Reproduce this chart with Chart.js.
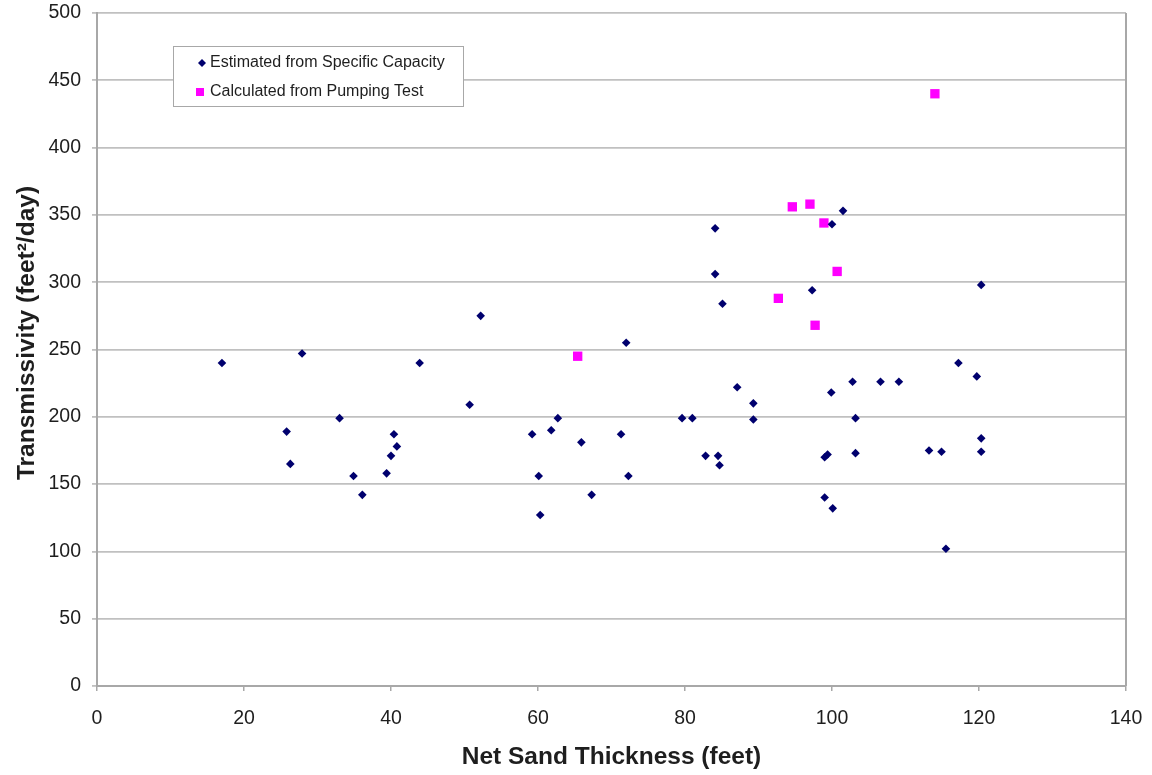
<!DOCTYPE html>
<html>
<head>
<meta charset="utf-8">
<script src="https://cdn.jsdelivr.net/npm/chart.js@4/dist/chart.umd.min.js"></script>
<style>
  html, body { margin: 0; padding: 0; background: #ffffff; }
  #wrap { width: 1152px; height: 775px; position: relative; }
</style>
</head>
<body>
<div id="wrap"><canvas id="c" width="1152" height="775"></canvas></div>
<script>
// Estimated from Specific Capacity
const specCapThickness = [17.0, 25.8, 26.3, 27.9, 33.0, 34.9, 36.1, 39.4, 40.0, 40.4, 40.8, 43.9, 50.7, 52.2,
  59.2, 60.1, 60.3, 61.8, 62.7, 65.9, 67.3, 71.3, 72.0, 72.3,
  79.6, 81.0, 82.8, 84.1, 84.1, 84.5, 84.7, 85.1, 87.1, 89.3, 89.3, 97.3,
  99.0, 99.4, 99.0, 100.1, 99.9, 100.0, 101.5, 102.8, 103.2, 103.2, 106.6, 109.1,
  113.2, 114.9, 115.5, 117.2, 119.7, 120.3, 120.3, 120.3];
const specCapTrans = [240, 189, 165, 247, 199, 156, 142, 158, 171, 187, 178, 240, 209, 275,
  187, 156, 127, 190, 199, 181, 142, 187, 255, 156,
  199, 199, 171, 340, 306, 171, 164, 284, 222, 210, 198, 294,
  170, 172, 140, 132, 218, 343, 353, 226, 199, 173, 226, 226,
  175, 174, 102, 240, 230, 298, 184, 174];

// Calculated from Pumping Test
const pumpThickness = [65.4, 92.7, 94.6, 97.0, 97.7, 98.9, 100.7, 114.0];
const pumpTrans = [245, 288, 356, 358, 268, 344, 308, 440];

// Axis ticks
const xTicks = [0, 20, 40, 60, 80, 100, 120, 140];
const yTicks = [0, 50, 100, 150, 200, 250, 300, 350, 400, 450, 500];

const seriesNames = ['Estimated from Specific Capacity', 'Calculated from Pumping Test'];
const xTitle = 'Net Sand Thickness (feet)';
const yTitle = 'Transmissivity (feet\u00B2/day)';

const FONT = '"Liberation Sans", Arial, Helvetica, sans-serif';
const NAVY = '#00006e';
const MAGENTA = '#ff00ff';
const GRID = '#c0c0c0';
const AXIS = '#a8a8a8';
const TEXT = '#1e1e1e';

const toPts = (xs, ys) => xs.map((x, i) => ({ x: x, y: ys[i] }));

const overlay = {
  id: 'overlay',
  afterDraw(chart) {
    const ctx = chart.ctx;
    const a = chart.chartArea;
    ctx.save();
    // right border
    ctx.strokeStyle = AXIS;
    ctx.lineWidth = 2;
    ctx.beginPath();
    ctx.moveTo(a.right, a.top);
    ctx.lineTo(a.right, a.bottom);
    ctx.stroke();

    // legend box
    ctx.fillStyle = '#ffffff';
    ctx.fillRect(173, 46, 291, 60);
    ctx.strokeStyle = '#a8a8a8';
    ctx.lineWidth = 1;
    ctx.strokeRect(173.5, 46.5, 290, 60);
    // diamond marker
    ctx.fillStyle = NAVY;
    ctx.beginPath();
    ctx.moveTo(202, 59); ctx.lineTo(206, 63); ctx.lineTo(202, 67); ctx.lineTo(198, 63);
    ctx.closePath();
    ctx.fill();
    // square marker
    ctx.fillStyle = MAGENTA;
    ctx.fillRect(196, 88, 8, 8);
    ctx.fillStyle = TEXT;
    ctx.font = '16px ' + FONT;
    ctx.textAlign = 'left';
    ctx.textBaseline = 'middle';
    ctx.fillText(seriesNames[0], 210, 63);
    ctx.fillText(seriesNames[1], 210, 92);

    // axis titles
    ctx.font = 'bold 24.5px ' + FONT;
    ctx.textAlign = 'center';
    ctx.textBaseline = 'middle';
    ctx.fillText(xTitle, (a.left + a.right) / 2, 757);
    ctx.translate(27, 333);
    ctx.rotate(-Math.PI / 2);
    ctx.fillText(yTitle, 0, 0);
    ctx.restore();
  }
};

new Chart(document.getElementById('c'), {
  type: 'scatter',
  data: {
    datasets: [
      {
        label: seriesNames[0],
        data: toPts(specCapThickness, specCapTrans),
        pointStyle: 'rectRot',
        pointRadius: 4.3,
        pointHoverRadius: 4.3,
        backgroundColor: NAVY,
        borderColor: NAVY,
        borderWidth: 0
      },
      {
        label: seriesNames[1],
        data: toPts(pumpThickness, pumpTrans),
        pointStyle: 'rect',
        pointRadius: 6.6,
        pointHoverRadius: 6.6,
        backgroundColor: MAGENTA,
        borderColor: MAGENTA,
        borderWidth: 0
      }
    ]
  },
  options: {
    responsive: false,
    animation: false,
    events: [],
    layout: { padding: { top: 13, right: 26, left: 0, bottom: 0 } },
    plugins: {
      legend: { display: false },
      tooltip: { enabled: false },
      title: { display: false }
    },
    scales: {
      x: {
        type: 'linear',
        min: xTicks[0],
        max: xTicks[xTicks.length - 1],
        afterBuildTicks: (s) => { s.ticks = xTicks.map(v => ({ value: v })); },
        afterFit: (s) => { s.height = 89; s.paddingLeft = 0; s.paddingRight = 0; },
        ticks: {
          font: { family: FONT, size: 19.5 },
          color: TEXT,
          padding: 16,
          maxRotation: 0
        },
        grid: {
          drawOnChartArea: false,
          drawTicks: true,
          tickLength: 5,
          color: AXIS,
          lineWidth: 1.5
        },
        border: { display: true, color: AXIS, width: 2 }
      },
      y: {
        type: 'linear',
        min: yTicks[0],
        max: yTicks[yTicks.length - 1],
        afterBuildTicks: (s) => { s.ticks = yTicks.map(v => ({ value: v })); },
        afterFit: (s) => { s.width = 97; s.paddingTop = 0; s.paddingBottom = 0; },
        ticks: {
          font: { family: FONT, size: 19.5 },
          color: TEXT,
          padding: 11
        },
        grid: {
          drawOnChartArea: true,
          drawTicks: true,
          tickLength: 5,
          color: GRID,
          lineWidth: 1.8
        },
        border: { display: true, color: AXIS, width: 2 }
      }
    }
  },
  plugins: [overlay]
});
</script>
</body>
</html>
